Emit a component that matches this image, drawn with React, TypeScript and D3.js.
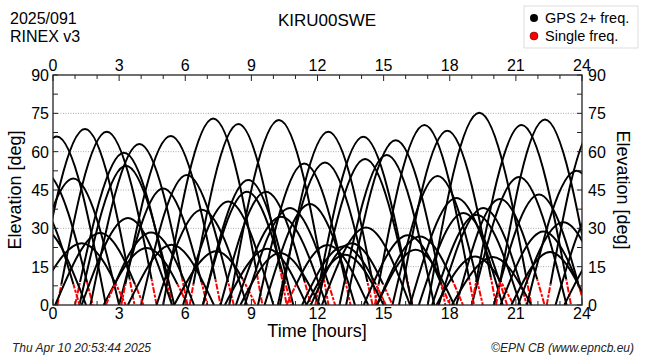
import React from "react";
import * as d3 from "d3";

// ---- data (hours, degrees) ----
const riseT = [
  -2.1, -2.6, -1.3, -0.8, 0.2, 1.0, 1.2, 1.7, 3.0, 3.1, 4.0, 5.0, 6.2, 6.8, 6.8, 7.6, 8.0, 9.3, 9.6,
  10.2, 10.3, 11.9, 12.0, 13.0, 13.3, 14.6, 15.4, 15.7, 16.2, 17.0, 17.5, 18.3, 19.0, 19.0, 20.0, 20.1,
  21.5, 22.4,
  -0.9, 0.1, 1.3, 2.3, 2.4, 3.4, 4.7, 5.5, 5.9, 7.8, 8.3, 8.7, 8.5, 10.6, 11.3, 11.7, 11.5, 12.2, 14.1,
  14.7, 14.7, 16.6, 17.2, 17.4, 18.1, 20.3, 21.1, 20.8,
  -3.0, -2.5, 22.8, 23.2,
];
const peakT = [
  0.17, -0.4, 0.92, 1.45, 2.44, 3.22, 3.31, 3.92, 5.0, 5.34, 6.07, 7.27, 8.41, 8.86, 8.8, 9.66, 10.25,
  11.4, 11.66, 12.34, 12.49, 14.08, 14.16, 15.14, 15.55, 16.85, 17.45, 17.89, 18.3, 19.34, 19.52, 20.28,
  21.14, 21.26, 22.05, 22.32, 23.75, 24.6,
  1.3, 2.14, 3.4, 4.25, 4.45, 5.38, 6.75, 7.4, 7.95, 9.72, 10.35, 10.75, 10.3, 12.45, 13.2, 13.55, 13.25,
  14.2, 16.1, 16.65, 16.45, 18.62, 19.22, 19.15, 19.95, 22.25, 23.15, 22.55,
  -0.9, -0.5, 24.8, 25.3,
];
const peakE = [
  65.9, 52, 49.5, 68.9, 67.8, 59.6, 54.5, 63, 45.6, 66.1, 50.9, 73, 70.8, 48.9, 44.3, 44.3, 72.4, 55.4,
  39.5, 55.8, 67.8, 65.8, 57.1, 58.7, 64.5, 70.4, 50.5, 68.2, 41.9, 75.2, 38, 41.5, 50.1, 70.4, 43.2,
  72.6, 52.5, 70,
  24.2, 28.2, 34, 22.3, 28.4, 23.6, 37.3, 21, 40.5, 22, 34.5, 38, 20.3, 23.5, 23, 24.2, 19.7, 30.3, 27.3,
  26.8, 21.6, 36, 35.3, 19, 18.8, 28.8, 32.4, 20.7,
  42, 30, 40, 25,
];
const setT = [
  2.4, 1.8, 3.0, 3.7, 4.7, 5.4, 5.5, 6.1, 7.0, 7.6, 8.2, 9.5, 10.6, 10.9, 10.8, 11.7, 12.5, 13.5, 13.7,
  14.5, 14.7, 16.3, 16.3, 17.3, 17.8, 19.1, 19.5, 20.1, 20.4, 21.7, 21.5, 22.3, 23.3, 23.5, 24.1, 24.6,
  26.0, 26.8,
  3.3, 4.1, 5.4, 6.1, 6.4, 7.3, 8.8, 9.2, 10.0, 11.5, 12.4, 12.8, 12.1, 14.3, 15.1, 15.4, 15.0, 16.2,
  18.0, 18.6, 18.2, 20.6, 21.2, 20.9, 21.7, 24.2, 25.2, 24.3,
  1.2, 1.5, 26.8, 27.3,
];
// elevation below which the rising / setting part was tracked on a single frequency
const redRiseCut = [
  0, 0, 0, 0, 8, 9, 0, 0, 0, 8, 0, 0, 8, 0, 0, 0, 0, 0, 0, 0, 0, 10, 0, 0, 0, 8, 0, 0, 0, 0, 0, 0, 0, 9,
  0, 9, 0, 8,
  0, 0, 0, 0, 8, 0, 0, 0, 0, 0, 0, 0, 0, 8, 0, 0, 0, 0, 0, 0, 0, 0, 0, 0, 0, 0, 0, 0,
  0, 0, 0, 0,
];
const redSetCut = [
  0, 9, 0, 10, 10, 10, 0, 11, 9, 10, 9, 13, 14, 0, 12, 9, 10, 10, 0, 9, 11, 11, 0, 0, 10, 10, 9, 11, 0,
  11, 8, 10, 0, 10, 9, 0, 0, 0,
  8, 8, 0, 8, 0, 0, 0, 10, 0, 0, 0, 8, 0, 0, 8, 8, 0, 0, 8, 9, 0, 9, 0, 9, 0, 8, 0, 0,
  8, 0, 0, 0,
];

const xTicks = d3.range(0, 25, 1);
const xLabels = [0, 3, 6, 9, 12, 15, 18, 21, 24];
const yTicks = d3.range(0, 90.1, 7.5);
const yLabels = [0, 15, 30, 45, 60, 75, 90];
const gridLevels = [15, 30, 45, 60, 75];

const W = 650;
const H = 360;
const L = 53, R = 582, T = 75, B = 305;
const FONT = "'Liberation Sans', Arial, Helvetica, sans-serif";

export default function App() {
  const x = d3.scaleLinear().domain([0, 24]).range([L, R]);
  const y = d3.scaleLinear().domain([0, 90]).range([B, T]);
  const line = d3
    .line<[number, number]>()
    .x((d) => x(d[0]))
    .y((d) => y(d[1]))
    .curve(d3.curveNatural);

  return (
    <svg
      width={W}
      height={H}
      viewBox={`0 0 ${W} ${H}`}
      style={{ position: "absolute", left: 0, top: 0, background: "#fff" }}
      fontFamily={FONT}
    >
      <defs>
        <clipPath id="plot">
          <rect x={L} y={T} width={R - L} height={B - T} />
        </clipPath>
      </defs>
      <rect x={0} y={0} width={W} height={H} fill="#fff" />

      {/* header */}
      <text x={10} y={24} fontSize={16}>2025/091</text>
      <text x={10} y={42} fontSize={16}>RINEX v3</text>
      <text x={327} y={26} fontSize={17} textAnchor="middle">KIRU00SWE</text>

      {/* legend */}
      <rect x={524} y={6} width={114} height={42} fill="#fff" stroke="#ddd" strokeWidth={1} />
      <circle cx={534} cy={18} r={4} fill="#000" />
      <text x={545} y={23} fontSize={14.5}>GPS 2+ freq.</text>
      <circle cx={534} cy={36} r={4} fill="#f00" stroke="#600" strokeWidth={0.6} />
      <text x={545} y={41} fontSize={14.5}>Single freq.</text>

      {/* grid */}
      {gridLevels.map((g) => (
        <line
          key={g}
          x1={L}
          x2={R}
          y1={y(g)}
          y2={y(g)}
          stroke="#aaa"
          strokeWidth={1}
          strokeDasharray="1 1.5"
        />
      ))}

      {/* satellite passes */}
      <g clipPath="url(#plot)">
        {peakT.map((tp, i) => {
          const pts: [number, number][] = [
            [riseT[i], 0],
            [tp, peakE[i]],
            [setT[i], 0],
          ];
          const d = line(pts) || "";
          const xp = x(tp);
          const yr = y(redRiseCut[i]);
          const ys = y(redSetCut[i]);
          const hasRed = redRiseCut[i] > 0 || redSetCut[i] > 0;
          return (
            <g key={i}>
              <clipPath id={`bk${i}`}>
                <rect x={0} y={0} width={Math.max(0, xp)} height={yr} />
                <rect x={xp} y={0} width={Math.max(0, W - xp)} height={ys} />
              </clipPath>
              <path
                d={d}
                fill="none"
                stroke="#000"
                strokeWidth={2}
                clipPath={`url(#bk${i})`}
              />
              {hasRed && (
                <>
                  <clipPath id={`rd${i}`}>
                    <rect x={0} y={yr} width={Math.max(0, xp)} height={H} />
                    <rect x={xp} y={ys} width={Math.max(0, W - xp)} height={H} />
                  </clipPath>
                  <path
                    d={d}
                    fill="none"
                    stroke="#ff0000"
                    strokeWidth={2}
                    strokeDasharray="6 1.5 3 1.5"
                    clipPath={`url(#rd${i})`}
                  />
                </>
              )}
            </g>
          );
        })}
      </g>

      {/* frame */}
      <rect x={L} y={T} width={R - L} height={B - T} fill="none" stroke="#222" strokeWidth={1.3} />

      {/* x ticks top/bottom */}
      {xTicks.map((t) => {
        const len = t % 3 === 0 ? 6 : 4;
        return (
          <g key={`xt${t}`} stroke="#222" strokeWidth={1}>
            <line x1={x(t)} x2={x(t)} y1={B} y2={B - len} />
            <line x1={x(t)} x2={x(t)} y1={T} y2={T + len} />
          </g>
        );
      })}
      {/* y ticks left/right */}
      {yTicks.map((v) => (
        <g key={`yt${v}`} stroke="#222" strokeWidth={1}>
          <line x1={L} x2={L + 5} y1={y(v)} y2={y(v)} />
          <line x1={R} x2={R - 5} y1={y(v)} y2={y(v)} />
        </g>
      ))}

      {/* tick labels */}
      {xLabels.map((t) => (
        <g key={`xl${t}`} fontSize={16} textAnchor="middle">
          <text x={x(t)} y={71}>{t}</text>
          <text x={x(t)} y={319}>{t}</text>
        </g>
      ))}
      {yLabels.map((v) => (
        <g key={`yl${v}`} fontSize={16}>
          <text x={49} y={y(v) + 6} textAnchor="end">{v}</text>
          <text x={588} y={y(v) + 6} textAnchor="start">{v}</text>
        </g>
      ))}

      {/* axis titles */}
      <text x={317} y={337} fontSize={18} textAnchor="middle">Time [hours]</text>
      <text
        transform={`translate(21,${(T + B) / 2}) rotate(-90)`}
        fontSize={18}
        textAnchor="middle"
      >
        Elevation [deg]
      </text>
      <text
        transform={`translate(617,${(T + B) / 2}) rotate(90)`}
        fontSize={18}
        textAnchor="middle"
      >
        Elevation [deg]
      </text>

      {/* footer */}
      <text x={12} y={352} fontSize={12} fontStyle="italic" fill="#222">
        Thu Apr 10 20:53:44 2025
      </text>
      <text x={634} y={352} fontSize={12} fontStyle="italic" fill="#222" textAnchor="end">
        ©EPN CB (www.epncb.eu)
      </text>
    </svg>
  );
}
